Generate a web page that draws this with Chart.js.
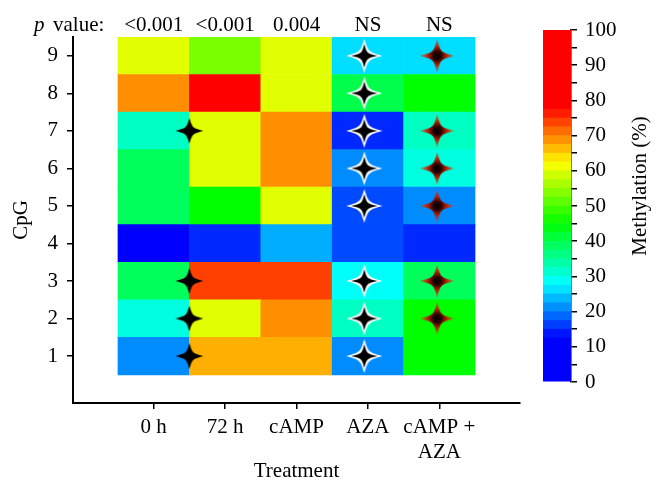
<!DOCTYPE html>
<html>
<head>
<meta charset="utf-8">
<script src="https://cdn.jsdelivr.net/npm/chart.js@4.4.1/dist/chart.umd.min.js"></script>
<style>
  body { margin: 0; background: #fff; }
  #wrap { position: relative; width: 666px; height: 488px; }
  #heat { position: absolute; left: 0; top: 0; }
  #bar { position: absolute; left: 500px; top: 0; }
</style>
</head>
<body>
<div id="wrap">
  <canvas id="heat" width="666" height="488"></canvas>
  <canvas id="bar" width="166" height="488"></canvas>
</div>
<script>
const treatments = ['0 h', '72 h', 'cAMP', 'AZA', ['cAMP +', 'AZA']];
const pValues = ['<0.001', '<0.001', '0.004', 'NS', 'NS'];
const cpgSites = [1, 2, 3, 4, 5, 6, 7, 8, 9];

// methylation (%) per CpG 1..9
const meth0h      = [21, 30, 39, 8, 39, 39, 32, 69, 60];
const meth72h     = [67, 60, 74, 15, 45, 60, 60, 88, 53];
const methCamp    = [67, 69, 74, 23, 60, 69, 69, 60, 60];
const methAza     = [21, 32, 28.5, 17, 17, 21, 15, 40, 26];
const methCampAza = [45, 45, 39, 15, 21, 30, 32, 45, 26];
const methylation = [meth0h, meth72h, methCamp, methAza, methCampAza];

// CpG sites with a star
const starsBetween0h72h = [1, 2, 3, 7];
const starsAza = [1, 2, 3, 5, 6, 7, 8, 9];
const starsCampAza = [2, 3, 5, 6, 7, 9];

// colour bar
const barTicks = [0, 10, 20, 30, 40, 50, 60, 70, 80, 90, 100];

const FONT = 'Liberation Serif, "Times New Roman", serif';

const stops = [
  [12.5, [0, 0, 255]],
  [28, [0, 255, 255]],
  [45, [0, 255, 0]],
  [62, [255, 255, 0]],
  [78, [255, 0, 0]]
];
function cmap(v) {
  if (v <= stops[0][0]) return 'rgb(0,0,255)';
  for (let i = 1; i < stops.length; i++) {
    if (v <= stops[i][0]) {
      const a = stops[i - 1], b = stops[i];
      const t = (v - a[0]) / (b[0] - a[0]);
      const c = a[1].map((x, k) => Math.round(x + (b[1][k] - x) * t));
      return `rgb(${c[0]},${c[1]},${c[2]})`;
    }
  }
  return 'rgb(255,0,0)';
}

function makeStar(kind) {
  const c = document.createElement('canvas');
  c.width = 40; c.height = 40;
  const g = c.getContext('2d');
  const cx = 20, cy = 20;
  function path(rx, ry, w) {
    g.beginPath();
    g.moveTo(cx, cy - ry);
    g.bezierCurveTo(cx + w, cy - w, cx + w, cy - w, cx + rx, cy);
    g.bezierCurveTo(cx + w, cy + w, cx + w, cy + w, cx, cy + ry);
    g.bezierCurveTo(cx - w, cy + w, cx - w, cy + w, cx - rx, cy);
    g.bezierCurveTo(cx - w, cy - w, cx - w, cy - w, cx, cy - ry);
    g.closePath();
  }
  if (kind === 'white') {
    path(18, 17, 4); g.fillStyle = '#fff'; g.fill();
    path(13, 12, 2.5); g.fillStyle = '#000'; g.fill();
  } else if (kind === 'red') {
    const grd = g.createRadialGradient(cx, cy, 0, cx, cy, 18);
    grd.addColorStop(0, '#000');
    grd.addColorStop(0.2, '#200');
    grd.addColorStop(0.5, '#b02000');
    grd.addColorStop(1, 'rgba(240,70,30,0.4)');
    path(18, 17, 3.5); g.fillStyle = grd; g.fill();
  } else {
    path(14, 13, 3); g.fillStyle = '#000'; g.fill();
  }
  return c;
}

// one bar dataset per CpG row
const rowSets = cpgSites.map((site, r) => ({
  type: 'bar',
  data: methylation.map((col, i) => ({ x: i + 1, y: [site - 0.5, site + 0.5] })),
  backgroundColor: methylation.map(col => cmap(col[r])),
  borderWidth: 0,
  stack: 'heat',
  barPercentage: 1,
  categoryPercentage: 1,
  order: 1
}));

const starSets = [
  { list: starsBetween0h72h, x: 1.5, kind: 'black' },
  { list: starsAza, x: 3.95, kind: 'white' },
  { list: starsCampAza, x: 4.97, kind: 'red' }
].map(s => ({
  type: 'scatter',
  data: s.list.map(site => ({ x: s.x, y: site })),
  pointStyle: makeStar(s.kind),
  order: 0
}));

const topLabels = {
  id: 'topLabels',
  afterDraw(chart) {
    const ctx = chart.ctx;
    const x = chart.scales.x;
    ctx.save();
    ctx.fillStyle = '#000';
    ctx.textBaseline = 'alphabetic';
    ctx.font = '21px ' + FONT;
    ctx.textAlign = 'center';
    pValues.forEach((p, i) => ctx.fillText(p, x.getPixelForValue(i + 1), 31));
    ctx.textAlign = 'left';
    ctx.fillText('value:', 53, 31);
    ctx.font = 'italic 21px ' + FONT;
    ctx.fillText('p', 34, 31);
    ctx.restore();
  }
};

new Chart(document.getElementById('heat'), {
  type: 'bar',
  data: { datasets: [...rowSets, ...starSets] },
  options: {
    responsive: false,
    animation: false,
    events: [],
    layout: { padding: { top: 37, right: 146, left: 0, bottom: 0 } },
    plugins: { legend: { display: false }, tooltip: { enabled: false } },
    scales: {
      x: {
        type: 'linear',
        offset: false,
        min: -0.13, max: 6.13,
        afterBuildTicks: s => { s.ticks = treatments.map((t, i) => ({ value: i + 1 })); },
        afterFit: s => { s.height = 85; },
        ticks: {
          callback: (v) => treatments[v - 1],
          font: { family: FONT, size: 21 }, color: '#000', padding: 6,
          maxRotation: 0, autoSkip: false
        },
        grid: { offset: false, drawOnChartArea: false, tickLength: 6, color: '#000', lineWidth: 1.5 },
        border: { color: '#000', width: 2 },
        title: { display: true, text: 'Treatment', font: { family: FONT, size: 21 }, color: '#000', padding: { top: 0, bottom: 4 } }
      },
      y: {
        type: 'linear',
        stacked: false,
        min: -0.25, max: 9.5,
        afterBuildTicks: s => { s.ticks = cpgSites.map(v => ({ value: v })); },
        afterFit: s => { s.width = 73; },
        ticks: { font: { family: FONT, size: 21 }, color: '#000', padding: 9 },
        grid: { drawOnChartArea: false, tickLength: 6, color: '#000', lineWidth: 1.5 },
        border: { color: '#000', width: 2 },
        title: { display: true, text: 'CpG', font: { family: FONT, size: 21 }, color: '#000', padding: { top: 9, bottom: 0 } }
      }
    }
  },
  plugins: [topLabels]
});

// colour bar bands
const bandEdges = [0, 12.5];
for (let v = 15; v <= 77.5; v += 2.5) bandEdges.push(v);
bandEdges.push(100);
const bandSets = bandEdges.slice(0, -1).map((lo, i) => {
  const hi = bandEdges[i + 1];
  return {
    data: [[lo, hi]],
    backgroundColor: cmap((lo + hi) / 2),
    borderWidth: 0,
    grouped: false,
    barPercentage: 1,
    categoryPercentage: 1
  };
});

const barTitle = {
  id: 'barTitle',
  afterDraw(chart) {
    const ctx = chart.ctx;
    ctx.save();
    ctx.translate(140, 186);
    ctx.rotate(-Math.PI / 2);
    ctx.font = '21px ' + FONT;
    ctx.fillStyle = '#000';
    ctx.textAlign = 'center';
    ctx.textBaseline = 'middle';
    ctx.fillText('Methylation (%)', 0, 0);
    ctx.restore();
  }
};

new Chart(document.getElementById('bar'), {
  type: 'bar',
  data: { labels: [''], datasets: bandSets },
  options: {
    responsive: false,
    animation: false,
    events: [],
    layout: { padding: { left: 43, top: 30, bottom: 106, right: 0 } },
    plugins: { legend: { display: false }, tooltip: { enabled: false } },
    scales: {
      x: { display: false },
      y: {
        position: 'right',
        min: 0, max: 100,
        afterFit: s => { s.width = 95; },
        ticks: {
          stepSize: 5, autoSkip: false,
          callback: v => barTicks.includes(v) ? String(v) : '',
          font: { family: FONT, size: 21 }, color: '#000', padding: 8
        },
        grid: { drawOnChartArea: false, tickLength: 6, color: '#000', lineWidth: 1.5 },
        border: { color: '#000', width: 1.5 }
      }
    }
  },
  plugins: [barTitle]
});
</script>
</body>
</html>
